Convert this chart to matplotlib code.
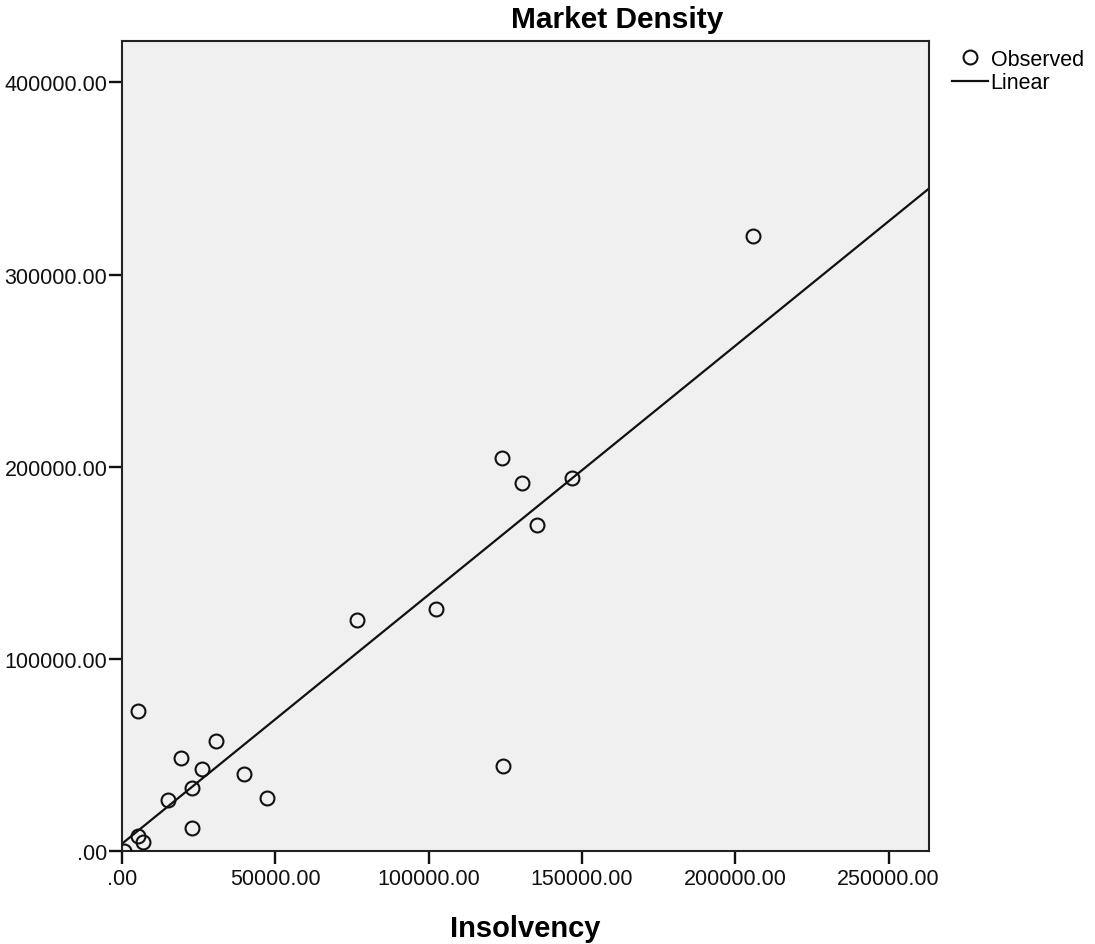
import numpy as np
import matplotlib
matplotlib.use('Agg')
import matplotlib.pyplot as plt
from matplotlib.ticker import FuncFormatter

plt.rcParams['font.family'] = ['Liberation Sans', 'DejaVu Sans']

insolvency = [5300, 30500, 19200, 26000, 39900, 22700, 14900, 47200, 22700,
              5100, 6900, 600, 76700, 102400, 123800, 130600, 146900, 135300,
              124200, 205900]
market_density = [72900, 57300, 48400, 42700, 39900, 33000, 26700, 27400, 11800,
                  7700, 4500, 200, 120300, 125700, 204700, 191500, 194300, 169800,
                  44400, 320000]

x_ticks = [0, 50000, 100000, 150000, 200000, 250000]
y_ticks = [0, 100000, 200000, 300000, 400000]

def fmt(v, pos):
    return '.00' if v == 0 else '%.2f' % v

fig = plt.figure(figsize=(10.95, 9.45), dpi=100)
ax = fig.add_axes([122 / 1095, 1 - 852 / 945, 807 / 1095, 810 / 945])
ax.set_facecolor('#f0f0f0')

x = np.array(insolvency, dtype=float)
y = np.array(market_density, dtype=float)
slope, intercept = np.polyfit(x, y, 1)

x_max = 263200
y_max = 421600
xs = np.array([0, x_max])
ax.plot(xs, intercept + slope * xs, color='#111111', linewidth=1.6, label='Linear', zorder=2)
ax.plot(x, y, linestyle='none', marker='o', markersize=10, markerfacecolor='none',
        markeredgecolor='#111111', markeredgewidth=1.5, label='Observed', zorder=3)

ax.set_xlim(0, x_max)
ax.set_ylim(0, y_max)
ax.set_xticks(x_ticks)
ax.set_yticks(y_ticks)
ax.xaxis.set_major_formatter(FuncFormatter(fmt))
ax.yaxis.set_major_formatter(FuncFormatter(fmt))
ax.tick_params(axis='both', direction='out', length=9.5, width=1.7, labelsize=15.5,
               colors='#111111')
ax.tick_params(axis='x', pad=3)
ax.tick_params(axis='y', pad=1)
for s in ax.spines.values():
    s.set_linewidth(1.5)
    s.set_color('#222222')

ax.set_xlabel('Insolvency', fontsize=21, fontweight='bold', labelpad=18)
fig.text(617 / 1095, 1 - 20 / 945, 'Market Density', fontsize=21.5, fontweight='bold',
         ha='center', va='center')

handles, labels = ax.get_legend_handles_labels()
ax.legend(handles[::-1], labels[::-1], loc='upper left', frameon=False,
          bbox_to_anchor=(952 / 1095, 1 - 50 / 945), bbox_transform=fig.transFigure,
          fontsize=15.5, handlelength=1.65, handletextpad=0.15, labelspacing=0.1,
          borderaxespad=0, borderpad=0)

fig.savefig('out.png', dpi=100)
